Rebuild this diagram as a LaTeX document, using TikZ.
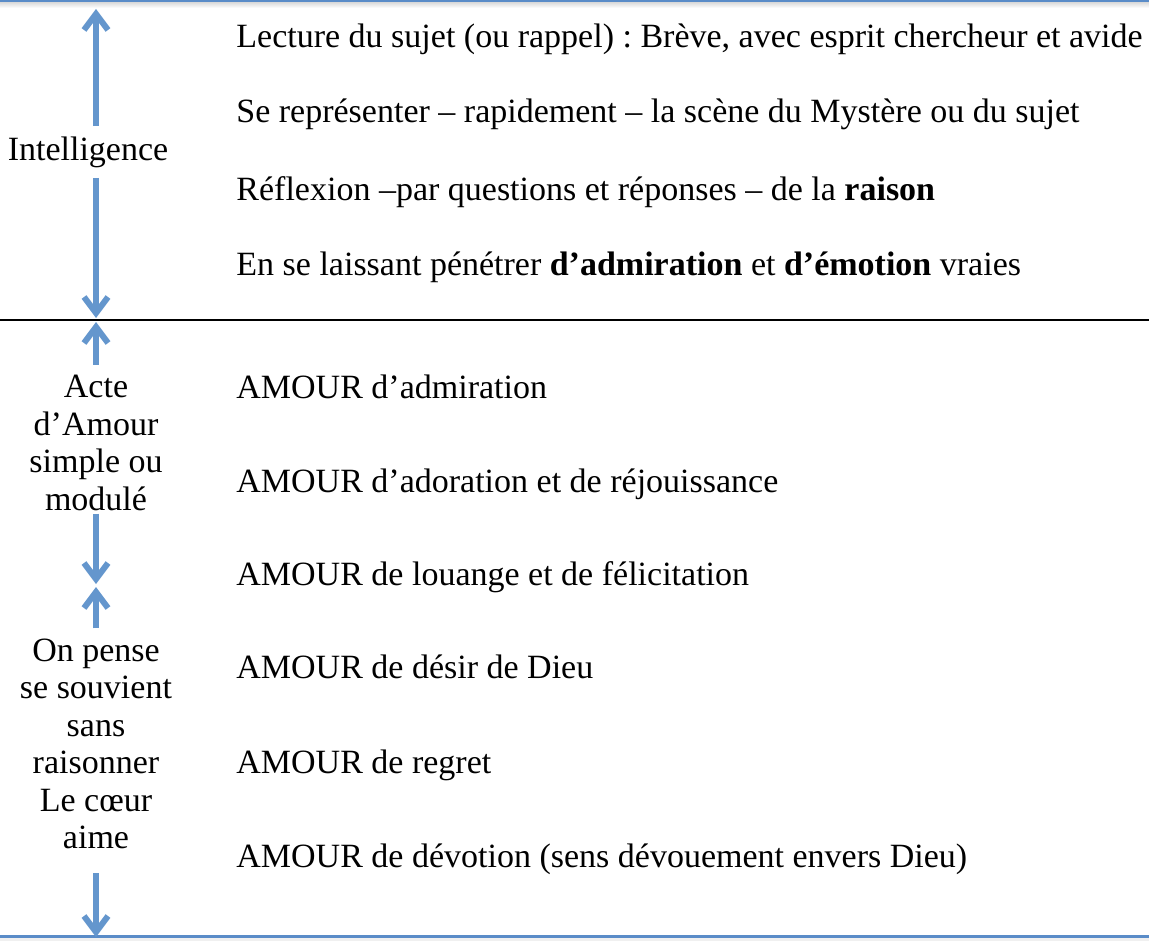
\documentclass[tikz,border=0pt]{standalone}
\usepackage{fontspec}
\setmainfont{Liberation Serif}
\usepackage{xcolor}
\usetikzlibrary{arrows.meta}
\frenchspacing

\definecolor{arrowblue}{RGB}{100,150,205}
\definecolor{ruleblue}{RGB}{90,140,200}

\begin{document}
\begin{tikzpicture}[
    x=0.5pt, y=-0.5pt,
    every node/.style={font=\fontsize{17}{18.75}\selectfont},
    sidelabel/.style={align=center, inner xsep=0pt, inner ysep=5pt},
    itemtext/.style={anchor=base west, inner sep=0pt},
    flow/.style={draw=arrowblue, line width=3pt, -{Straight Barb[length=8pt,width=12pt]}},
    hrule/.style={draw=ruleblue, line width=1.5pt}
]
\useasboundingbox (0,0) rectangle (1149,941);

% Frame lines
\shade[top color=gray!30, bottom color=white] (0,2) rectangle (1149,8);
\fill[gray!12] (0,937) rectangle (1149,941);
\draw[hrule] (0,1) -- (1149,1);
\draw[line width=1pt] (0,320) -- (1149,320);
\draw[hrule] (0,936) -- (1149,936);

% Arrow tips on the lines
\coordinate (i-top) at (96,9);
\coordinate (i-bot) at (96,318);
\coordinate (a-top) at (96,322);
\coordinate (a-bot) at (96,584);
\coordinate (p-top) at (96,587);
\coordinate (p-bot) at (96,937);

% Left column
\node[sidelabel] (intel) at (88,152) {Intelligence};
\node[sidelabel] (acte) at (96,443) {Acte\\d’Amour\\simple ou\\modulé};
\node[sidelabel] (pense) at (96,744) {On pense\\se souvient\\sans\\raisonner\\Le cœur\\aime};

% Right column
\node[itemtext] (lecture) at (236,48) {Lecture du sujet (ou rappel) : Brève, avec esprit chercheur et avide};
\node[itemtext] (scene) at (236,123) {Se représenter – rapidement – la scène du Mystère ou du sujet};
\node[itemtext] (reflex) at (236,200) {Réflexion –par questions et réponses – de la \textbf{raison}};
\node[itemtext] (emotion) at (236,275) {En se laissant pénétrer \textbf{d’admiration} et \textbf{d’émotion} vraies};
\node[itemtext] (admir) at (236,398) {AMOUR d’admiration};
\node[itemtext] (ador) at (236,492) {AMOUR d’adoration et de réjouissance};
\node[itemtext] (louange) at (236,585) {AMOUR de louange et de félicitation};
\node[itemtext] (desir) at (236,678) {AMOUR de désir de Dieu};
\node[itemtext] (regret) at (236,773) {AMOUR de regret};
\node[itemtext] (devot) at (236,867) {AMOUR de dévotion (sens dévouement envers Dieu)};

% Arrows
\draw[flow] (intel.north -| i-top) -- (i-top);
\draw[flow] (intel.south -| i-bot) -- (i-bot);
\draw[flow] (acte.north) -- (a-top);
\draw[flow, shorten <=-3.75pt] (acte.south) -- (a-bot);
\draw[flow] (pense.north) -- (p-top);
\draw[flow, shorten <=6.75pt] (pense.south) -- (p-bot);

\end{tikzpicture}
\end{document}
